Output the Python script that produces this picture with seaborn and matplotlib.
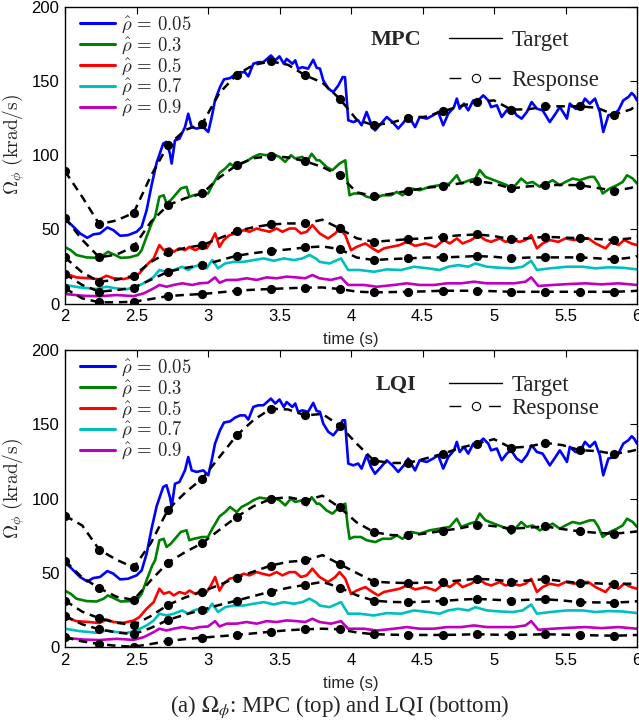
import numpy as np
import pandas as pd
import matplotlib
matplotlib.use("Agg")
import matplotlib.pyplot as plt
from matplotlib.lines import Line2D
import seaborn as sns

# ---------------- data ----------------
rho_labels = ["0.05", "0.3", "0.5", "0.7", "0.9"]
colors = ["#0000ff", "#008000", "#ff0000", "#00bfbf", "#bf00bf"]

# Target trajectories (shared by both controllers)
t_tgt_005 = [2.0, 2.047, 2.105, 2.156, 2.198, 2.245, 2.296, 2.338, 2.385, 2.44, 2.501, 2.536, 2.571, 2.606, 2.641,
             2.687, 2.71, 2.734, 2.746, 2.769, 2.8, 2.839, 2.862, 2.886, 2.92, 2.967, 3.002, 3.026, 3.049, 3.084,
             3.112, 3.154, 3.189, 3.224, 3.259, 3.282, 3.317, 3.352, 3.387, 3.44, 3.47, 3.5, 3.53, 3.55, 3.59,
             3.61, 3.63, 3.66, 3.7, 3.736, 3.76, 3.783, 3.806, 3.841, 3.876, 3.911, 3.942, 3.958, 3.981, 4.016,
             4.05, 4.074, 4.109, 4.14, 4.168, 4.21, 4.25, 4.29, 4.33, 4.37, 4.4, 4.448, 4.48, 4.53, 4.575, 4.61,
             4.645, 4.68, 4.72, 4.74, 4.76, 4.79, 4.82, 4.855, 4.89, 4.925, 4.96, 4.98, 5.02, 5.054, 5.089, 5.12,
             5.158, 5.193, 5.23, 5.263, 5.3, 5.34, 5.39, 5.43, 5.46, 5.49, 5.51, 5.53, 5.57, 5.6, 5.636, 5.67,
             5.706, 5.74, 5.764, 5.8, 5.84, 5.87, 5.904, 5.94, 5.963, 5.98, 6.0]
v_tgt_005 = [57, 52.9, 47.3, 44.3, 46.6, 47.3, 51.3, 49.5, 45.7, 46.1, 48.4, 51.7, 63, 80, 95,
             107.9, 109, 101, 94.4, 110, 111.2, 119, 128, 119, 118, 119, 115.7, 125.8, 137, 146,
             151.2, 152, 154.5, 156, 156, 153.2, 161.7, 162.8, 162.8, 167.3, 164, 166.7, 161.7, 165, 161.7,
             164, 158.4, 159.4, 158.4, 164.4, 159, 158.4, 150.5, 145, 142.6, 147, 152.7, 152.7, 123.6, 122.4,
             123.6, 120.2, 129.2, 121.3, 116.8, 121.3, 125.8, 122.4, 118, 122.4, 127, 119, 125.8, 124.7, 127, 129.2,
             120.2, 128, 132.5, 138.2, 131.4, 134.8, 130.3, 137, 137, 140.4, 137, 132.5, 133.7, 125.8, 130.3, 132.5,
             127, 124.7, 129.2, 135.9, 131.4, 130.3, 122.4, 128, 132.5, 128, 124.7, 134.8, 131.4, 131.4, 138.2, 134.8,
             138.2, 129.2, 115.7, 127, 128, 130.3, 137, 139.3, 142, 140.4, 137]

t_tgt_03 = [2.0, 2.04, 2.08, 2.15, 2.22, 2.27, 2.3, 2.35, 2.39, 2.45, 2.51, 2.536, 2.57, 2.61, 2.63, 2.66, 2.69,
            2.71, 2.74, 2.78, 2.81, 2.85, 2.87, 2.9, 2.96, 3.0, 3.03, 3.05, 3.08, 3.12, 3.154, 3.2, 3.235, 3.28,
            3.317, 3.36, 3.41, 3.456, 3.5, 3.54, 3.58, 3.61, 3.66, 3.69, 3.725, 3.76, 3.78, 3.83, 3.87, 3.92,
            3.96, 3.975, 3.99, 4.02, 4.07, 4.11, 4.17, 4.22, 4.28, 4.32, 4.36, 4.42, 4.48, 4.55, 4.62, 4.69,
            4.74, 4.77, 4.83, 4.87, 4.9, 4.94, 5.0, 5.06, 5.09, 5.12, 5.16, 5.19, 5.23, 5.27, 5.32, 5.37, 5.41,
            5.46, 5.5, 5.55, 5.6, 5.67, 5.7, 5.73, 5.76, 5.81, 5.86, 5.9, 5.93, 5.97, 6.0]
v_tgt_03 = [38, 36, 32.7, 31.1, 30.8, 32.7, 34.9, 32.7, 30.8, 31.1, 32.7, 36, 45, 55, 58.5, 72, 73,
            67.5, 69.7, 74.2, 77.6, 78.7, 72, 73, 74.2, 74.2, 79.8, 83, 88, 91, 94.4, 91, 94.4, 96.6,
            98.9, 100.7, 100, 100.7, 98.9, 95.5, 100, 97.8, 98.9, 95.5, 101, 96.6, 96.6, 92, 89.9, 94.4,
            96.6, 83, 73, 74.2, 74.2, 72, 70.8, 73, 73, 75.3, 73, 77.6, 76.4, 78.7, 79.8, 81,
            86.5, 81, 83.2, 84.3, 90, 85.4, 83.2, 81, 79.8, 76.4, 81, 84.3, 81, 82, 78.7, 81, 83.2,
            79.8, 82, 84.3, 83.2, 85.4, 85.4, 81, 74.2, 77.6, 79.8, 82, 86.5, 84.3, 81]

t_tgt_05 = [2.0, 2.08, 2.17, 2.24, 2.29, 2.34, 2.41, 2.48, 2.52, 2.57, 2.62, 2.66, 2.69, 2.73, 2.76, 2.8, 2.84,
            2.87, 2.91, 2.96, 2.99, 3.02, 3.05, 3.08, 3.11, 3.15, 3.2, 3.25, 3.29, 3.34, 3.38, 3.43, 3.48, 3.52,
            3.57, 3.61, 3.65, 3.69, 3.73, 3.76, 3.78, 3.84, 3.89, 3.92, 3.96, 4.0, 4.04, 4.1, 4.15, 4.19, 4.23,
            4.28, 4.34, 4.39, 4.45, 4.52, 4.59, 4.65, 4.69, 4.74, 4.78, 4.84, 4.89, 4.94, 4.98, 5.04, 5.08,
            5.13, 5.18, 5.22, 5.26, 5.3, 5.34, 5.39, 5.45, 5.5, 5.56, 5.62, 5.66, 5.71, 5.78, 5.82, 5.87, 5.91,
            5.96, 6.0]
v_tgt_05 = [20.3, 17.6, 17, 16.3, 18.7, 17, 16.5, 18, 20.3, 25.9, 30.4, 39.4, 36, 37.2, 34.9, 37.2, 36,
            38.2, 36, 38.2, 37.2, 41.6, 47.3, 38.2, 42.8, 46.1, 47.3, 49.5, 48.4, 50.6, 49.5, 48.4, 50.6, 48.4,
            50.6, 50.6, 47.3, 48.4, 52.9, 49.5, 47.3, 43.9, 47.3, 50.6, 46.1, 36, 38.2, 40.5, 37.2, 34.9, 37.2,
            38.2, 39.4, 41.6, 38.9, 40.5, 38.2, 42.8, 40.5, 43.9, 40.5, 42.8, 46.1, 42.8, 41.6, 43.9, 41.6,
            42.8, 41.6, 42.8, 46.1, 37.2, 40.5, 42.8, 41.6, 43.9, 42.8, 43.9, 43.9, 40.5, 37.2, 41.6, 39.4, 42.8,
            40.5, 39.4]

t_tgt_07 = [2.0, 2.1, 2.22, 2.29, 2.36, 2.43, 2.5, 2.57, 2.62, 2.66, 2.71, 2.76, 2.82, 2.86, 2.9, 2.94, 2.99,
            3.03, 3.07, 3.12, 3.18, 3.25, 3.32, 3.39, 3.46, 3.53, 3.6, 3.66, 3.71, 3.76, 3.78, 3.85, 3.93, 3.98,
            4.06, 4.16, 4.25, 4.35, 4.44, 4.54, 4.62, 4.68, 4.75, 4.82, 4.87, 4.95, 5.04, 5.13, 5.2, 5.26, 5.3,
            5.39, 5.51, 5.62, 5.71, 5.8, 5.9, 6.0]
v_tgt_07 = [12.5, 10.9, 9.8, 11.3, 10.2, 9.6, 11.3, 14.7, 18, 22.6, 21.4, 22.6, 24.8, 22.6, 24.8, 25.9, 23.7,
            29.3, 23.7, 27, 28.1, 28.1, 29.3, 30.4, 28.8, 30.4, 29.3, 30.4, 32.7, 30, 28.1, 27, 30.4, 22.6,
            22.6, 21.4, 23, 22.6, 24.8, 23.7, 22.6, 24.8, 25.9, 24.8, 27, 24.8, 24.1, 23.7, 24.8, 28.8, 22.6,
            23.7, 24.8, 24.8, 23.7, 24.4, 24.1, 23]

t_tgt_09 = [2.0, 2.13, 2.24, 2.36, 2.48, 2.55, 2.62, 2.66, 2.71, 2.76, 2.82, 2.89, 2.94, 3.0, 3.05, 3.08, 3.13,
            3.2, 3.27, 3.34, 3.41, 3.48, 3.55, 3.62, 3.68, 3.73, 3.78, 3.86, 3.93, 3.98, 4.09, 4.18, 4.3, 4.39,
            4.48, 4.58, 4.67, 4.77, 4.86, 4.95, 5.05, 5.14, 5.22, 5.26, 5.31, 5.41, 5.52, 5.64, 5.75, 5.87, 6.0]
v_tgt_09 = [6.4, 5.2, 4.9, 5.7, 5, 6.8, 10.2, 12.5, 11.3, 12.5, 13.6, 12.5, 13.6, 14, 17.6, 14, 15.9,
            15.9, 17, 15.9, 17.6, 17, 18.1, 17.6, 17, 19.2, 17, 15.9, 17.6, 12.5, 12.5, 11.3, 12.5, 13.6,
            12.5, 12.5, 13.6, 13.6, 14.7, 13.6, 13.6, 13.6, 14.7, 17.6, 11.8, 12.5, 13.1, 13.6, 12.9, 13.6, 12.5]

# Responses, sampled every 0.12 s (markers every 0.24 s), last sample at 6 s
t_resp = [2.00, 2.12, 2.24, 2.36, 2.48, 2.60, 2.72, 2.84, 2.96, 3.08, 3.20, 3.32, 3.44, 3.56, 3.68, 3.80,
          3.92, 4.04, 4.16, 4.28, 4.40, 4.52, 4.64, 4.76, 4.88, 5.00, 5.12, 5.24, 5.36, 5.48, 5.60, 5.72,
          5.84, 5.96, 6.00]

mpc_005 = [89.2, 72, 53.5, 56, 61.1, 86, 106.7, 117, 121.3, 142, 154.3, 161, 163.3, 161, 153.9, 149,
           138.2, 124, 120.2, 122, 125.1, 126, 129.6, 133, 135.9, 137, 130.8, 131, 133, 133, 133, 132,
           127.4, 131, 134.8]
mpc_03 = [57.8, 43, 31.1, 33, 38.2, 55, 66.3, 71, 74.2, 85, 93.3, 98, 99.5, 98.5, 96, 92,
          86.5, 75, 72.4, 74, 76, 78, 79.1, 81, 82.5, 81, 77.6, 79, 79.8, 80, 79.8, 78,
          76, 78, 79.8]
mpc_05 = [31.1, 21, 14.7, 16, 18.7, 28, 34.5, 37.5, 39.4, 44, 48.8, 51.5, 53.3, 54, 54, 56.5,
          50.6, 44, 41.6, 42.5, 43.4, 44, 45, 46, 46.6, 45.5, 43.2, 44, 45, 44.5, 44, 43.5,
          42.8, 44, 45]
mpc_07 = [19.9, 12.5, 8, 9, 10.7, 16, 21.4, 24, 25.9, 29, 32.2, 34, 35.4, 36.5, 37.8, 38.5,
          36.7, 31, 29.3, 30, 30.4, 31, 31.1, 31.5, 32, 31.5, 30.4, 31, 31.1, 31.1, 31.1, 30.5,
          29.7, 31, 32]
mpc_09 = [10.2, 3.5, 0.8, 0.8, 1.2, 3, 5, 5.8, 6.4, 7.5, 8.6, 9.3, 9.8, 10.3, 10.7, 10.8,
          9.8, 8, 7.5, 7.7, 7.9, 8.2, 8.6, 8.6, 8.6, 8.3, 7.9, 7.9, 7.9, 7.9, 7.9, 7.9,
          7.9, 8.3, 8.6]

lqi_005 = [88.5, 82, 65.6, 58.9, 53.7, 70, 92.6, 104, 113.5, 128, 142.5, 153, 160.5, 160, 156, 157,
           149.2, 137, 125.6, 124, 124, 127, 130.1, 134, 137.1, 140, 134.2, 135, 137.5, 136, 132.6, 132,
           130.1, 132, 133]
lqi_03 = [58.2, 47, 39.8, 34, 31.9, 45, 57, 64, 70.1, 79, 87.7, 95, 99.8, 101, 98.7, 102,
          94.1, 84, 77.5, 75.5, 75.3, 76.5, 78.4, 80, 82.5, 81.5, 79.8, 80.5, 81.3, 79.5, 78, 77,
          76.4, 77.5, 78]
lqi_05 = [31.4, 24, 19.5, 16.5, 15, 21, 28.5, 33.5, 37.5, 42, 46.9, 51, 55, 57.5, 58.4, 62,
          56, 50, 44.2, 43.5, 43.2, 43.5, 43.8, 45, 46.1, 45.5, 44.2, 45, 45.8, 44.5, 43.2, 43,
          42.5, 42.8, 42.8]
lqi_07 = [21.1, 15.5, 12.1, 10, 8.8, 13, 18.4, 22, 25.2, 28.5, 31.4, 34.5, 37.5, 40, 42, 44,
          40.2, 35, 31.4, 30.5, 30.3, 30.7, 31.2, 32, 32.6, 32, 31.4, 32, 32.3, 31.5, 30.3, 30.2,
          30.1, 30.6, 31]
lqi_09 = [6.7, 4, 2.2, 1, 0.4, 2.2, 4.2, 5.5, 6.5, 7.4, 8.3, 9.4, 10.5, 11.5, 12.1, 12.5,
          12.1, 10, 8.8, 8.5, 8.3, 8.3, 8.3, 8.5, 8.8, 8.5, 8.3, 8.5, 8.8, 8.5, 8.3, 8,
          7.8, 8.1, 8.3]

x_ticks = [2, 2.5, 3, 3.5, 4, 4.5, 5, 5.5, 6]
x_ticklabels = ["2", "2.5", "3", "3.5", "4", "4.5", "5", "5.5", "6"]
y_ticks = [0, 50, 100, 150, 200]
panel_names = ["MPC", "LQI"]

# ---------------- tables ----------------
tgt_t = [t_tgt_005, t_tgt_03, t_tgt_05, t_tgt_07, t_tgt_09]
tgt_v = [v_tgt_005, v_tgt_03, v_tgt_05, v_tgt_07, v_tgt_09]
rows = []
for lab, ts, vs in zip(rho_labels, tgt_t, tgt_v):
    for t, v in zip(ts, vs):
        rows.append({"t": t, "v": v, "rho": lab})
df_target = pd.DataFrame(rows)


def resp_frame(series):
    r = []
    for lab, vs in zip(rho_labels, series):
        for i, (t, v) in enumerate(zip(t_resp, vs)):
            r.append({"t": t, "v": v, "rho": lab, "mark": (i % 2 == 0) and t < 5.95})
    return pd.DataFrame(r)


df_resp = {"MPC": resp_frame([mpc_005, mpc_03, mpc_05, mpc_07, mpc_09]),
           "LQI": resp_frame([lqi_005, lqi_03, lqi_05, lqi_07, lqi_09])}

# ---------------- style ----------------
sns.set_style("white")
plt.rcParams["font.family"] = ["Liberation Sans", "DejaVu Sans"]
plt.rcParams["mathtext.fontset"] = "cm"

fig = plt.figure(figsize=(6.39, 7.23), dpi=100)
left, right = 65 / 639, 637 / 639
axes = [fig.add_axes([left, 1 - 303.5 / 723, right - left, 296.5 / 723]),
        fig.add_axes([left, 1 - 647.3 / 723, right - left, 297.3 / 723])]

palette = dict(zip(rho_labels, colors))
for ax, name in zip(axes, panel_names):
    sns.lineplot(data=df_target, x="t", y="v", hue="rho", palette=palette, units="rho",
                 estimator=None, sort=False, lw=1.9, ax=ax, legend=False)
    dr = df_resp[name]
    sns.lineplot(data=dr, x="t", y="v", units="rho", estimator=None, sort=False,
                 color="black", lw=1.8, ls=(0, (3.4, 2.3)), ax=ax, legend=False)
    sns.scatterplot(data=dr[dr["mark"]], x="t", y="v", color="black", s=44,
                    edgecolor="black", linewidth=0, ax=ax, legend=False, zorder=5)

    ax.set_xlim(2, 6)
    ax.set_ylim(0, 200)
    ax.set_xticks(x_ticks)
    ax.set_xticklabels(x_ticklabels)
    ax.set_yticks(y_ticks)
    ax.tick_params(direction="in", length=5, width=0.8, top=True, right=True,
                   labelsize=12, pad=4, colors="black")
    for sp in ax.spines.values():
        sp.set_visible(True)
        sp.set_color("black")
        sp.set_linewidth(1.0)
    ax.set_xlabel("time (s)", fontsize=12, labelpad=6)
    ax.set_ylabel(r"$\Omega_\phi\ (\mathrm{krad/s})$", fontsize=14)
    ax.yaxis.set_label_coords(-0.066, 0.535)

    # rho legend
    handles = [Line2D([], [], color=c, lw=2.2) for c in colors]
    labels = [r"$\hat{\rho}\,=\,%s$" % r for r in rho_labels]
    leg1 = ax.legend(handles, labels, loc="upper left", bbox_to_anchor=(0.02, 0.99),
                     frameon=False, fontsize=13.5, handlelength=1.85, handletextpad=0.3,
                     labelspacing=0.0, borderpad=0.2, borderaxespad=0.0)
    ax.add_artist(leg1)

    # controller name
    ax.text(0.579, 0.888 if name == "MPC" else 0.882, name, transform=ax.transAxes,
            fontsize=16, fontweight="bold", family="Liberation Serif", ha="center", va="center")

    # target / response key
    h_t = Line2D([], [], color="black", lw=1.0)
    h_r = Line2D([], [], color="black", lw=1.0, ls=(0, (8.5, 20)), marker="o",
                 mfc="white", mec="black", ms=6, mew=0.8)
    leg2 = ax.legend([h_t, h_r], ["Target", "Response"], loc="upper left",
                     bbox_to_anchor=(0.66, 0.946 if name == "MPC" else 0.938),
                     frameon=False, handlelength=2.3, handletextpad=0.4,
                     labelspacing=0.85 if name == "MPC" else 0.05,
                     prop={"family": "Liberation Serif", "size": 16.5},
                     borderpad=0.3, borderaxespad=0.0)

fig.text(340 / 639, 1 - 707 / 723, r"(a) $\Omega_\phi$: MPC (top) and LQI (bottom)",
         ha="center", va="center", fontsize=16.5, family="Liberation Serif",
         math_fontfamily="stix")

fig.savefig("out.png", dpi=100)
